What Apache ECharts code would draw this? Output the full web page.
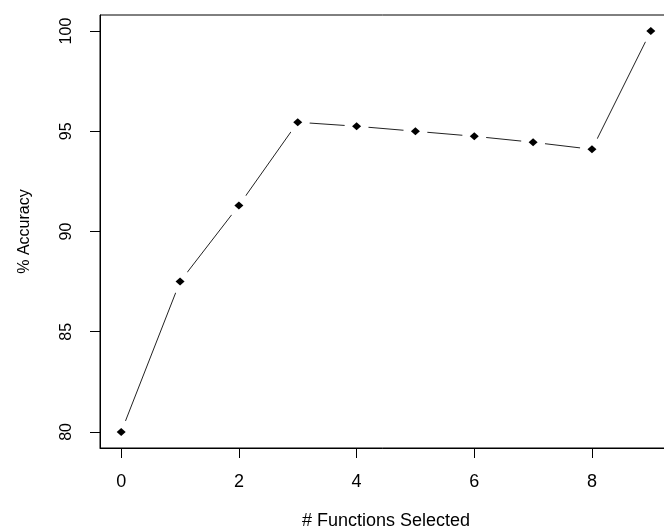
<!DOCTYPE html>
<html>
<head>
<meta charset="utf-8">
<script src="https://cdn.jsdelivr.net/npm/echarts@6/dist/echarts.min.js"></script>
<style>
  html, body { margin: 0; padding: 0; background: #fff; }
  #container { width: 664px; height: 530px; }
</style>
</head>
<body>
<div id="container"></div>
<script>
var functionsSelected = [0, 1, 2, 3, 4, 5, 6, 7, 8, 9];
var accuracy = [80, 87.5, 91.3, 95.45, 95.25, 95.0, 94.75, 94.45, 94.1, 100];
var xTicks = [0, 2, 4, 6, 8];
var yTicks = [80, 85, 90, 95, 100];

var points = functionsSelected.map(function (x, i) {
    return [x, accuracy[i]];
});

var dom = document.getElementById('container');
var myChart = echarts.init(dom, null, { renderer: 'canvas' });

var font = 'Liberation Sans, Arial, sans-serif';

var option = {
    animation: false,
    backgroundColor: '#fff',
    grid: {
        left: 100,
        top: 15,
        right: -8,
        bottom: 82,
        containLabel: false,
        outerBoundsMode: 'none',
        show: true,
        borderColor: '#000',
        borderWidth: 1
    },
    xAxis: {
        type: 'value',
        min: -0.36,
        max: 9.36,
        name: '# Functions Selected',
        nameLocation: 'middle',
        nameGap: 64,
        nameTextStyle: { fontFamily: font, fontSize: 18, color: '#000' },
        axisLine: { show: true, onZero: false, lineStyle: { color: '#000' } },
        splitLine: { show: false },
        axisTick: {
            show: true,
            inside: false,
            length: 10,
            customValues: xTicks,
            lineStyle: { color: '#000' }
        },
        axisLabel: {
            customValues: xTicks,
            margin: 25,
            fontFamily: font,
            fontSize: 18,
            color: '#000'
        }
    },
    yAxis: {
        type: 'value',
        min: 79.2,
        max: 100.8,
        name: '% Accuracy',
        nameLocation: 'middle',
        nameRotate: 90,
        nameGap: 67,
        nameTextStyle: { fontFamily: font, fontSize: 16, color: '#000' },
        axisLine: { show: true, onZero: false, lineStyle: { color: '#000' } },
        splitLine: { show: false },
        axisTick: {
            show: true,
            inside: false,
            length: 10,
            customValues: yTicks,
            lineStyle: { color: '#000' }
        },
        axisLabel: {
            customValues: yTicks,
            rotate: 90,
            margin: 25,
            fontFamily: font,
            fontSize: 16,
            color: '#000'
        }
    },
    series: [
        {
            type: 'line',
            data: points,
            showSymbol: false,
            lineStyle: { color: '#222', width: 1 },
            z: 2
        },
        {
            // white discs open gaps in the line around each point (R type "b")
            type: 'scatter',
            data: points,
            symbol: 'circle',
            symbolSize: 24,
            itemStyle: { color: '#fff', opacity: 1 },
            z: 3
        },
        {
            type: 'scatter',
            data: points,
            symbol: 'diamond',
            symbolSize: [9, 8],
            itemStyle: { color: '#000', opacity: 1 },
            z: 4
        }
    ]
};

myChart.setOption(option);
window.addEventListener('resize', myChart.resize);
</script>
</body>
</html>
